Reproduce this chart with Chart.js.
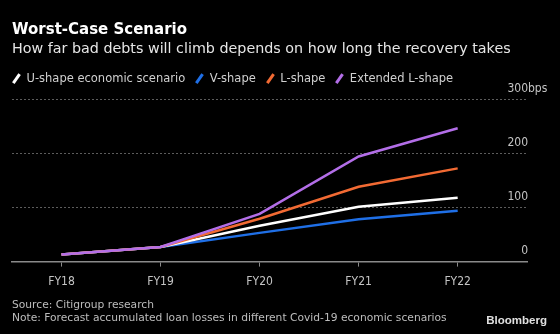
<!DOCTYPE html>
<html>
<head>
<meta charset="utf-8">
<script src="https://cdn.jsdelivr.net/npm/chart.js@4/dist/chart.umd.min.js"></script>
<style>
  body { margin:0; background:#000; width:560px; height:334px; overflow:hidden; position:relative; font-family:"DejaVu Sans", sans-serif; }
  #chart { position:absolute; left:0; top:0; }
  .txt { position:absolute; left:12px; line-height:1; white-space:nowrap; }
  #title { top:21.5px; font-size:15px; font-weight:bold; color:#fff; }
  #subtitle { top:41.4px; font-size:14.3px; color:#e6e6e6; }
  #legend { top:73px; font-size:11.5px; color:#d0d0d0; display:flex; align-items:center; }
  .item { display:flex; align-items:center; margin-right:10px; }
  .slash { display:inline-block; width:2.5px; height:11px; transform:rotate(35deg); margin:0 9px 0 3px; }
  #unit { position:absolute; left:528px; top:82px; line-height:1; font-family:"DejaVu Sans Condensed", sans-serif; font-size:12px; color:#c4c4c4; }
  #source { top:300px; font-size:10.7px; color:#bdbdbd; }
  #note { top:313.3px; font-size:10.7px; color:#bdbdbd; }
  #brand { position:absolute; right:13px; top:315px; line-height:1; font-family:"Liberation Sans", sans-serif; font-weight:bold; font-size:11.5px; color:#e0e0e0; }
</style>
</head>
<body>
<canvas id="chart" width="560" height="334"></canvas>
<div class="txt" id="title">Worst-Case Scenario</div>
<div class="txt" id="subtitle">How far bad debts will climb depends on how long the recovery takes</div>
<div class="txt" id="legend"></div>
<div id="unit">bps</div>
<div class="txt" id="source">Source: Citigroup research</div>
<div class="txt" id="note">Note: Forecast accumulated loan losses in different Covid-19 economic scenarios</div>
<div id="brand">Bloomberg</div>
<script>
// fiscal years on the x axis
var categories = ["FY18", "FY19", "FY20", "FY21", "FY22"];

// accumulated loan losses, bps
var uShape = [13, 27, 66, 101, 118];
var vShape = [13, 27, 53, 78, 94];
var lShape = [13, 27, 79, 138, 172];
var extendedL = [13, 27, 88, 194, 246];

var seriesNames = ["U-shape economic scenario", "V-shape", "L-shape", "Extended L-shape"];
var seriesColors = ["#ffffff", "#1f6fe6", "#f26a33", "#b36ee8"];

Chart.defaults.elements.point.radius = 0;
Chart.defaults.font.family = "DejaVu Sans Condensed";

//turn a list of values into x/y points along the category index
function toPoints(values){
  var pts = [];
  for(var i = 0; i < values.length; i++){
    pts.push({x: i, y: values[i]});
  }
  return pts;
}

var allSeries = [uShape, vShape, lShape, extendedL];
var drawOrder = [2, 3, 1, 0]; // purple on top
var datasets = [];
for(var i = 0; i < allSeries.length; i++){
  datasets.push({
    label: seriesNames[i],
    data: toPoints(allSeries[i]),
    borderColor: seriesColors[i],
    backgroundColor: seriesColors[i],
    borderWidth: 2.5,
    tension: 0,
    order: drawOrder[i]
  });
}

// html legend with slash markers
var legendBox = document.getElementById("legend");
for(var i = 0; i < seriesNames.length; i++){
  var item = document.createElement("span");
  item.className = "item";
  var mark = document.createElement("span");
  mark.className = "slash";
  mark.style.background = seriesColors[i];
  item.appendChild(mark);
  item.appendChild(document.createTextNode(seriesNames[i]));
  legendBox.appendChild(item);
}

var config = {
  type: "line",
  data: { datasets: datasets },
  options: {
    responsive: false,
    animation: false,
    devicePixelRatio: 1,
    layout: { padding: { left: 12, right: 13, top: 99, bottom: 37 } },
    plugins: { legend: { display: false }, tooltip: { enabled: false } },
    scales: {
      x: {
        type: "linear",
        min: -0.5,
        max: 4.7,
        grid: { drawOnChartArea: false, drawTicks: true, tickLength: 5, color: "#8a8a8a", lineWidth: 1 },
        border: { display: true, color: "#8a8a8a", width: 1.5 },
        ticks: {
          stepSize: 1,
          includeBounds: false,
          autoSkip: false,
          maxRotation: 0,
          padding: 8,
          color: "#c4c4c4",
          font: { size: 12 },
          callback: function(v){ return categories[v] !== undefined ? categories[v] : ""; }
        }
      },
      y: {
        position: "right",
        min: 0,
        max: 300,
        afterFit: function(scale){ scale.width = 20; },
        grid: {
          drawTicks: false,
          lineWidth: 1,
          color: function(ctx){ return ctx.tick && ctx.tick.value === 0 ? "rgba(0,0,0,0)" : "#5c5c5c"; }
        },
        border: { display: false, dash: [2, 2] },
        ticks: {
          stepSize: 100,
          mirror: true,
          labelOffset: -10.5,
          padding: 1,
          color: "#c4c4c4",
          font: { size: 12 }
        }
      }
    }
  }
};

var graph = new Chart(document.getElementById("chart"), config);
</script>
</body>
</html>
